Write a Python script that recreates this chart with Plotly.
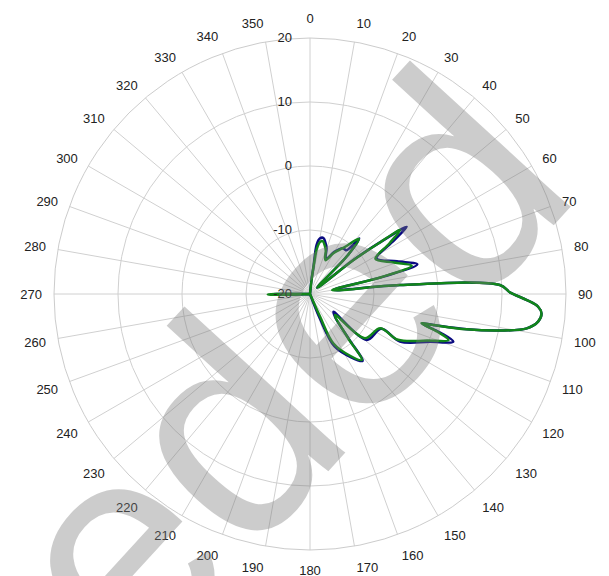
import plotly.graph_objects as go

# ---- data (angle in degrees, level in dB) ----
theta_blue = [0, 6.0, 7.2, 7.7, 10.0, 13.5, 17.5, 19.9, 24.5, 30.0, 35.6, 39.8, 41.5, 44.3, 49.0,
              52.0, 54.0, 55.2, 57.8, 61.8, 69.4, 74.5, 76.7, 80.0, 84.3, 87.3, 89.6, 91.6, 93.2,
              94.8, 96.9, 99.0, 100.9, 102.7, 104.1, 104.7, 106.5, 108.4, 111.7, 117.9, 116.0,
              129.0, 127.2, 133.0, 139.2, 141.9, 147.0, 155.0, 158.0, 164.0, 266.0, 268.6, 269.3,
              270.0, 273.0, 360.0]
r_blue = [-20, -17.5, -15.9, -12.2, -11.2, -11.0, -11.8, -12.4, -14.0, -12.4, -11.2, -11.1, -8.4,
          -11.5, -18.5, -11.0, -5.0, -1.6, -4.9, -8.2, -5.5, -2.6, -8.2, -16.3, -5.9, 9.7, 11.3,
          13.9, 15.7, 16.3, 15.9, 14.3, 10.2, 5.1, -0.1, -1.9, 1.2, 3.6, 0.2, -4.1, -7.6, -8.6,
          -15.4, -14.6, -10.6, -6.7, -8.2, -11.0, -16.0, -20, -20, -14.8, -13.8, -14.8, -20, -20]

theta_green = [0, 6.5, 7.8, 8.6, 11.0, 13.5, 17.5, 20.0, 24.5, 30.0, 35.6, 41.6, 44.3, 49.0,
               52.0, 53.6, 54.6, 57.5, 61.8, 69.4, 74.4, 76.7, 80.0, 84.3, 87.3, 89.6, 91.6, 93.2,
               94.8, 96.9, 99.0, 100.9, 102.7, 104.1, 104.7, 106.5, 108.4, 111.7, 117.5, 116.0,
               128.9, 130.0, 139.2, 141.9, 147.0, 154.7, 156.0, 162.0, 266.0, 268.6, 269.3, 270.0,
               273.0, 360.0]
r_green = [-20, -17.5, -14.5, -12.8, -11.7, -11.5, -12.2, -12.8, -14.2, -12.6, -11.2, -8.5,
           -11.6, -18.5, -11.5, -6.5, -2.75, -5.3, -8.4, -6.0, -3.5, -8.6, -16.5, -5.9, 9.7, 11.3,
           13.9, 15.7, 16.3, 15.9, 14.3, 10.2, 5.1, -0.1, -2.0, 0.8, 2.8, -0.3, -4.5, -7.8, -9.0,
           -14.9, -10.9, -6.9, -8.5, -11.5, -16.1, -20, -20, -14.5, -13.4, -14.5, -20, -20]

angle_ticks = list(range(0, 360, 10))
radial_ticks = [-20, -10, 0, 10, 20]
watermark = "eded"

fig = go.Figure()
fig.add_trace(go.Scatterpolar(theta=theta_blue, r=r_blue, mode="lines",
                              line=dict(color="#0a0a80", width=2.5, shape="spline"),
                              showlegend=False, hoverinfo="skip"))
fig.add_trace(go.Scatterpolar(theta=theta_green, r=r_green, mode="lines",
                              line=dict(color="#11861a", width=2.5, shape="spline"),
                              showlegend=False, hoverinfo="skip"))

fig.update_layout(
    width=609, height=576,
    margin=dict(l=46, r=51, t=30, b=34),
    paper_bgcolor="white",
    font=dict(family="Liberation Sans, Arial, sans-serif", size=13, color="#222222"),
    polar=dict(
        domain=dict(x=[0, 1], y=[0, 1]),
        bgcolor="white",
        angularaxis=dict(
            rotation=90, direction="clockwise",
            tickmode="array", tickvals=angle_ticks, ticktext=[str(a) for a in angle_ticks],
            ticks="outside", ticklen=9, tickcolor="rgba(0,0,0,0)",
            showgrid=True, gridcolor="#d0d0d0", gridwidth=1,
            showline=True, linecolor="#cccccc", linewidth=1,
            tickfont=dict(size=13, color="#222222"),
        ),
        radialaxis=dict(
            range=[-20, 20], angle=90, side="counterclockwise",
            tickmode="array", tickvals=radial_ticks, ticktext=[str(v) for v in radial_ticks],
            ticks="outside", ticklen=13, tickcolor="rgba(0,0,0,0)", showline=False,
            showgrid=True, gridcolor="#d0d0d0", gridwidth=1,
            tickfont=dict(size=13, color="#222222"),
            tickangle=90,
        ),
    ),
)

fig.add_annotation(
    text=watermark, xref="paper", yref="paper", x=0.445, y=0.3555,
    showarrow=False, textangle=-47.5,
    font=dict(family="Liberation Sans, Arial, sans-serif", size=300,
              color="rgba(120,120,120,0.38)"),
)

fig.write_html("out.html")
